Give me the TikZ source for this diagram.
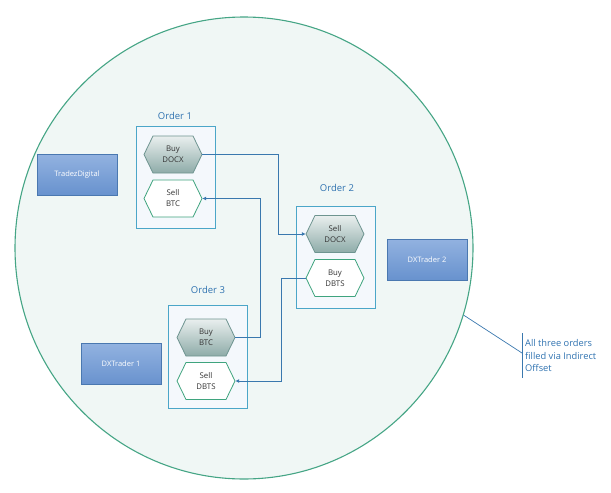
\documentclass[tikz,border=0pt]{standalone}
\usepackage{fontspec}
\setmainfont{Open Sans}
\usetikzlibrary{shapes.geometric,arrows.meta}
\definecolor{circfill}{HTML}{F0F7F5}
\definecolor{circline}{HTML}{45A585}
\definecolor{ordline}{HTML}{4BA6C8}
\definecolor{ordfill}{HTML}{F4F8FC}
\definecolor{lbl}{HTML}{2F72B0}
\definecolor{conn}{HTML}{3A78AE}
\definecolor{hexline}{HTML}{6E9490}
\definecolor{hexgreen}{HTML}{3FA47E}
\definecolor{boxline}{HTML}{4A78B0}
\newcommand\myhexpath[3]{\path[#1] (#2,#3) ++(-29,0) -- ++(9,-18.5) -- ++(40,0) -- ++(9,18.5) -- ++(-9,18.5) -- ++(-40,0) -- cycle;}
\begin{document}
\begin{tikzpicture}[x=1pt,y=-1pt,
  bigcirc/.style={ellipse,draw=circline,fill=circfill,line width=1.1pt,minimum width=458pt,minimum height=462pt,inner sep=0pt},
  ordbox/.style={draw=ordline,fill=ordfill,line width=1pt,minimum width=79pt,minimum height=102pt,inner sep=0pt},
  ordlbl/.style={text=lbl,font=\fontsize{9.5}{11}\selectfont,inner sep=0pt},
  hextext/.style={rectangle,minimum width=58pt,minimum height=37pt,inner sep=0pt,align=center,font=\fontsize{7.8}{11}\selectfont,text=black!80},
  hexfill/.style={draw=hexline,line width=0.8pt,line join=miter,top color=white!85!hexline,bottom color=hexline!78!white},
  hexopen/.style={draw=hexgreen,line width=0.8pt,line join=miter,fill=white},
  trader/.style={draw=boxline,line width=0.8pt,top color={rgb,255:red,146;green,178;blue,224},bottom color={rgb,255:red,104;green,146;blue,206},minimum width=80pt,minimum height=41pt,inner sep=0pt,text=white,font=\fontsize{7.5}{9}\selectfont},
  connector/.style={draw=conn,line width=0.8pt},
  arr/.style={connector,-{Latex[length=4pt,width=4pt]}}
]
\useasboundingbox (0,0) rectangle (611,493);
\node[bigcirc] (big) at (244,248) {};

\node[ordbox] (o1) at (175.5,177) {};
\node[ordlbl] (l1) at (175,116) {Order 1};
\myhexpath{hexfill}{173}{154.5}
\node[hextext] (h1a) at (173,154.5) {Buy\\DOCX};
\myhexpath{hexopen}{173}{198.5}
\node[hextext] (h1b) at (173,198.5) {Sell\\BTC};

\node[ordbox] (o2) at (336,257) {};
\node[ordlbl] (l2) at (337,188) {Order 2};
\myhexpath{hexfill}{335}{234}
\node[hextext] (h2a) at (335,234) {Sell\\DOCX};
\myhexpath{hexopen}{335}{278}
\node[hextext] (h2b) at (335,278) {Buy\\DBTS};

\node[ordbox,minimum height=103pt] (o3) at (207.5,356.5) {};
\node[ordlbl] (l3) at (208,290) {Order 3};
\myhexpath{hexfill}{206}{337.5}
\node[hextext] (h3a) at (206,337.5) {Buy\\BTC};
\myhexpath{hexopen}{206}{381}
\node[hextext] (h3b) at (206,381) {Sell\\DBTS};

\node[trader] (td) at (77,174.5) {TradezDigital};
\node[trader] (dx1) at (121,364) {DXTrader 1};
\node[trader] (dx2) at (427,259.5) {DXTrader 2};

\draw[arr] (h1a.east) -- (278,154.5) |- (h2a.west);
\draw[arr] (h3a.east) -- (260,337.5) |- (h1b.east);
\draw[arr] (h2b.west) -- (281,278) |- (h3b.east);

\coordinate (ce) at (522,353);
\coordinate (bt) at (522,333);
\coordinate (bb) at (522,378);
\draw[connector,line width=0.7pt] (big.-17) -- (ce);
\draw[connector,line width=0.7pt] (bt) -- (bb);
\node[anchor=west,align=left,text=lbl,font=\fontsize{9.3}{12.5}\selectfont,inner sep=0pt] (note) at (525,356) {All three orders\\filled via Indirect\\Offset};
\end{tikzpicture}
\end{document}
